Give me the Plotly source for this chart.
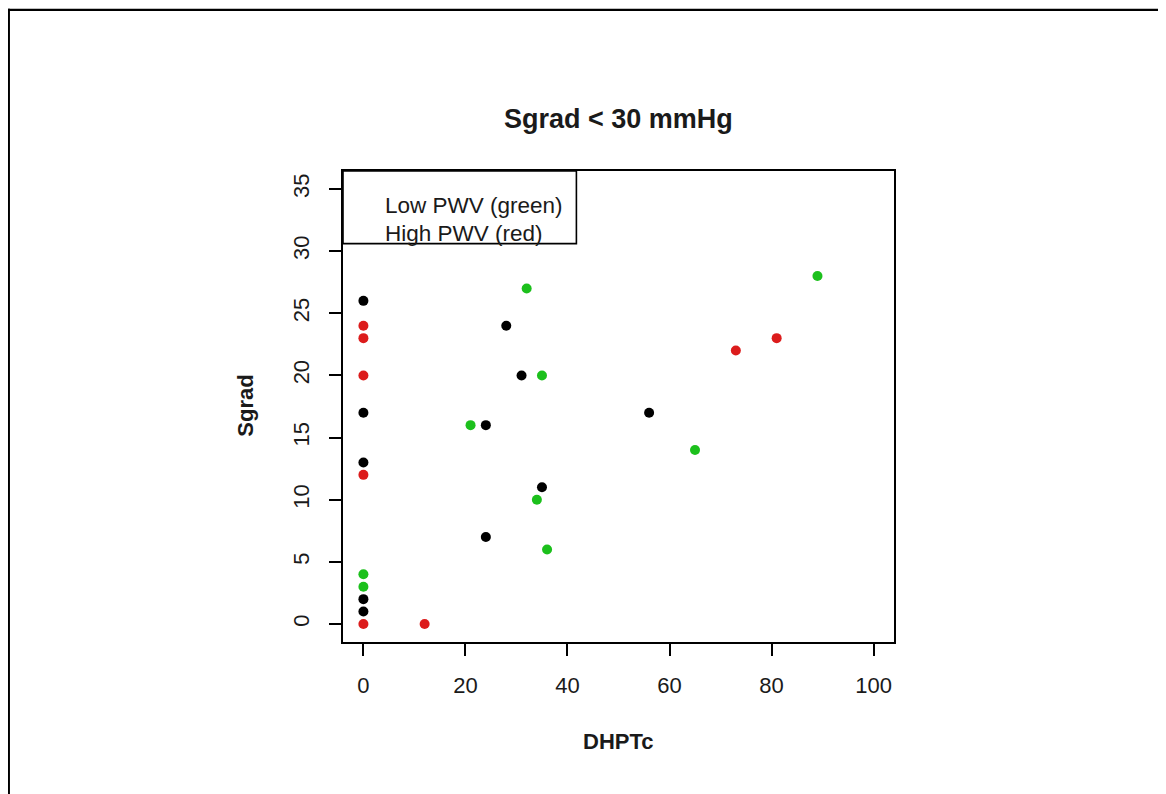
import plotly.graph_objects as go

# Data (DHPTc, Sgrad) grouped by PWV class
black_x = [0, 0, 0, 0, 0, 28, 31, 24, 35, 24, 56]
black_y = [26, 17, 13, 2, 1, 24, 20, 16, 11, 7, 17]
red_x = [0, 0, 0, 0, 0, 12, 73, 81]
red_y = [24, 23, 20, 12, 0, 0, 22, 23]
green_x = [0, 0, 21, 32, 35, 34, 36, 65, 89]
green_y = [4, 3, 16, 27, 20, 10, 6, 14, 28]

x_ticks = [0, 20, 40, 60, 80, 100]
y_ticks = [0, 5, 10, 15, 20, 25, 30, 35]

title_text = "Sgrad < 30 mmHg"
x_label = "DHPTc"
y_label = "Sgrad"
legend_lines = ["Low PWV (green)", "High PWV (red)"]

# the page body has an 8px margin: the figure starts at screen (8, 8)
OFF = 8
W, H = 1166, 794
# plot area in screen pixels: x 343.3..894.3, y 170.5..642.5
SX0, SX1, SY0, SY1 = 343.3, 894.3, 170.5, 642.5
L = SX0 - OFF
T = SY0 - OFF
R = W - (SX1 - OFF)
B = H - (SY1 - OFF)
PW, PH = SX1 - SX0, SY1 - SY0


def px(xs):
    """screen x -> paper x"""
    return (xs - SX0) / PW


def py(ys):
    """screen y -> paper y"""
    return (SY1 - ys) / PH


FONT = "Liberation Sans, Arial, sans-serif"
TXT = "#1a1a1a"

fig = go.Figure()
for xs, ys, col in [(black_x, black_y, "#000000"),
                    (red_x, red_y, "#dc1c1c"),
                    (green_x, green_y, "#1cc01c")]:
    fig.add_trace(go.Scatter(x=xs, y=ys, mode="markers",
                             marker=dict(color=col, size=10, line=dict(width=0)),
                             showlegend=False, hoverinfo="x+y"))

axis_common = dict(showgrid=False, zeroline=False, showline=True, mirror=True,
                   linecolor="#000000", linewidth=1.6, ticks="outside",
                   ticklen=12, tickwidth=1.5, tickcolor="#000000",
                   tickfont=dict(family=FONT, size=22, color=TXT))

fig.update_xaxes(range=[-4, 104], tickvals=x_ticks,
                 ticktext=[str(v) for v in x_ticks],
                 ticklabelstandoff=11, **axis_common)
fig.update_yaxes(range=[-1.45, 36.45], tickvals=y_ticks,
                 ticktext=[str(v) for v in y_ticks], tickangle=-90,
                 ticklabelstandoff=11, **axis_common)

shapes = [
    # legend box
    dict(type="rect", xref="paper", yref="paper", x0=0, x1=px(576.7),
         y0=py(243.3), y1=1, line=dict(color="#000000", width=1.6),
         fillcolor="rgba(0,0,0,0)"),
    # outer frame (top and left edges)
    dict(type="line", xref="paper", yref="paper", x0=px(8), x1=px(1180),
         y0=py(9), y1=py(9), line=dict(color="#000000", width=2.2)),
    dict(type="line", xref="paper", yref="paper", x0=px(9.1), x1=px(9.1),
         y0=py(8), y1=py(810), line=dict(color="#000000", width=2.3)),
]

annotations = [
    dict(text="<b>%s</b>" % title_text, xref="paper", yref="paper",
         x=px(618.5), y=py(118), showarrow=False, xanchor="center",
         yanchor="middle", font=dict(family=FONT, size=27, color=TXT)),
    dict(text="<b>%s</b>" % x_label, xref="paper", yref="paper",
         x=px(618.5), y=py(742), showarrow=False, xanchor="center",
         yanchor="middle", font=dict(family=FONT, size=22, color=TXT)),
    dict(text="<b>%s</b>" % y_label, xref="paper", yref="paper",
         x=px(245), y=py(406), showarrow=False, textangle=-90,
         xanchor="center", yanchor="middle",
         font=dict(family=FONT, size=22, color=TXT)),
    dict(text=legend_lines[0], xref="paper", yref="paper",
         x=px(383), y=py(205), showarrow=False, xanchor="left",
         yanchor="middle", font=dict(family=FONT, size=22.5, color=TXT)),
    dict(text=legend_lines[1], xref="paper", yref="paper",
         x=px(383), y=py(233), showarrow=False, xanchor="left",
         yanchor="middle", font=dict(family=FONT, size=22.5, color=TXT)),
]

fig.update_layout(width=W, height=H, margin=dict(l=L, r=R, t=T, b=B, pad=0),
                  plot_bgcolor="white", paper_bgcolor="white",
                  shapes=shapes, annotations=annotations)

fig.write_html("out.html")
